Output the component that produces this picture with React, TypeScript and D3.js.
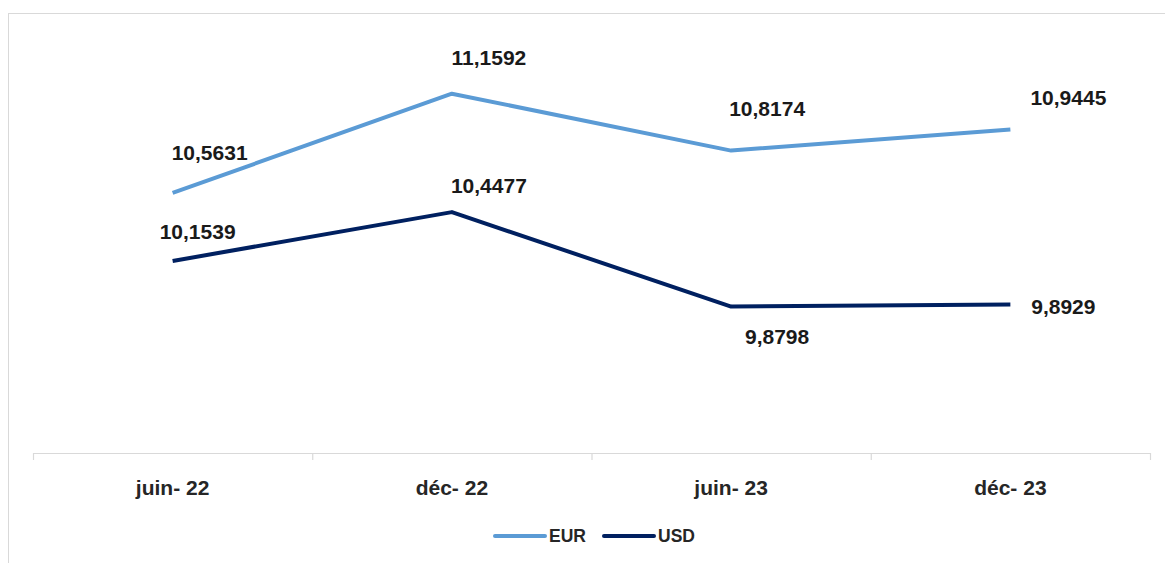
import React from 'react';
import * as d3 from 'd3';

const categories = ['juin- 22', 'déc- 22', 'juin- 23', 'déc- 23'];
const eurValues = [10.5631, 11.1592, 10.8174, 10.9445];
const usdValues = [10.1539, 10.4477, 9.8798, 9.8929];
const seriesNames = ['EUR', 'USD'];

const W = 1165;
const H = 563;
const FONT = '"Liberation Sans", Arial, sans-serif';

// hand-placed label offsets (like the manual Excel labels)
const eurOffsets = [[37, -40], [37, -36], [36, -42], [58, -32]];
const usdOffsets = [[25, -29], [37, -27], [46, 30], [53, 2]];

const fmt = (v: number) => v.toFixed(4).replace('.', ',');

export default function App() {
  const x = d3.scaleBand().domain(categories).range([33, 1150]);
  const y = d3.scaleLinear().domain([9, 11.5]).range([453, 37]);
  const cx = (c: string) => (x(c) ?? 0) + x.bandwidth() / 2;

  const line = d3
    .line<number>()
    .x((_, i) => cx(categories[i]))
    .y((d) => y(d));

  const series = [
    { name: seriesNames[0], values: eurValues, color: '#5B9BD5', offsets: eurOffsets },
    { name: seriesNames[1], values: usdValues, color: '#002060', offsets: usdOffsets },
  ];

  const ticks = [...categories.map((c) => x(c) ?? 0), x.range()[1]];

  return (
    <svg width={W} height={H} style={{ position: 'absolute', left: 0, top: 0, background: '#fff' }}>
      <rect x={8.5} y={13.5} width={1170} height={570} fill="#fff" stroke="#d9d9d9" strokeWidth={1} />
      <line x1={x.range()[0]} x2={x.range()[1]} y1={453.5} y2={453.5} stroke="#d9d9d9" strokeWidth={1.2} />
      {ticks.map((t, i) => (
        <line key={i} x1={t + 0.5} x2={t + 0.5} y1={453} y2={460} stroke="#d9d9d9" strokeWidth={1.2} />
      ))}
      {categories.map((c) => (
        <text key={c} x={cx(c)} y={487} textAnchor="middle" dominantBaseline="central"
          fontFamily={FONT} fontWeight="bold" fontSize={21} fill="#262626">{c}</text>
      ))}
      {series.map((s) => (
        <path key={s.name} d={line(s.values) ?? ''} fill="none" stroke={s.color} strokeWidth={4} strokeLinejoin="round" />
      ))}
      {series.map((s) =>
        s.values.map((v, i) => (
          <text key={s.name + i} x={cx(categories[i]) + s.offsets[i][0]} y={y(v) + s.offsets[i][1]}
            textAnchor="middle" dominantBaseline="central" fontFamily={FONT} fontWeight="bold"
            fontSize={21} fill="#1a1a1a">{fmt(v)}</text>
        ))
      )}
      {series.map((s, i) => {
        const lx = 495 + i * 109;
        return (
          <g key={'lg' + s.name}>
            <line x1={lx} x2={lx + 50} y1={536} y2={536} stroke={s.color} strokeWidth={4} strokeLinecap="round" />
            <text x={lx + 54} y={536} dominantBaseline="central" fontFamily={FONT} fontWeight="bold"
              fontSize={17.5} fill="#262626">{s.name}</text>
          </g>
        );
      })}
    </svg>
  );
}
